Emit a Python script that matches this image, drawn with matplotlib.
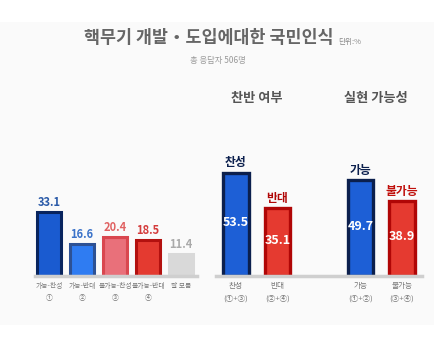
import matplotlib.pyplot as plt
from matplotlib.patches import Rectangle

plt.rcParams['font.family'] = ['Noto Sans CJK KR', 'DejaVu Sans']

# 세부 응답
detail_labels = ['가능-찬성\n①', '가능-반대\n②', '불가능-찬성\n③', '불가능-반대\n④', '잘 모름']
detail_values = [33.1, 16.6, 20.4, 18.5, 11.4]
detail_fill = ['#1a5bd0', '#2f7cf2', '#e9707a', '#e43a30', '#d9d9d9']
detail_edge = ['#08245e', '#2d5194', '#d9474f', '#b3110f', '#d9d9d9']
detail_text = ['#2a5aa8', '#3a72c9', '#e06262', '#d43c3c', '#aaaaaa']

# 찬반 여부 / 실현 가능성
sum_labels = ['찬성\n(①+③)', '반대\n(②+④)', '가능\n(①+②)', '불가능\n(③+④)']
sum_names = ['찬성', '반대', '가능', '불가능']
sum_values = [53.5, 35.1, 49.7, 38.9]
sum_pos = [0, 1, 3, 4]
sum_fill = ['#1d5fd6', '#e53a30', '#1d5fd6', '#e53a30']
sum_edge = ['#0b1f4d', '#b00606', '#0b1f4d', '#b00606']
sum_name_color = ['#0b1f4d', '#b00606', '#0b1f4d', '#c0100c']

W, H = 444, 346
fig = plt.figure(figsize=(W / 100, H / 100), dpi=100)
fig.patch.set_facecolor('white')
fig.patches.append(Rectangle((0, 1 - 325 / H), 434 / W, (325 - 22) / H,
                             transform=fig.transFigure, facecolor='#fafafa',
                             edgecolor='none', zorder=-5))

def px(x0, x1, y0=160, y1=276):
    return [x0 / W, 1 - y1 / H, (x1 - x0) / W, (y1 - y0) / H]

ymax = 60

# 왼쪽: 세부 응답
ax1 = fig.add_axes(px(35, 197))
ax1.bar(range(5), detail_values, width=0.72, color=detail_fill,
        edgecolor=detail_edge, linewidth=2.2, zorder=2)
for i, v in enumerate(detail_values):
    ax1.text(i, v + 1.5, f'{v}', ha='center', va='bottom', fontsize=8,
             color=detail_text[i], fontweight='bold')
ax1.set_xlim(-0.42, 4.48)
ax1.set_xticks(range(5))
ax1.set_xticklabels(detail_labels, fontsize=4.9, color='#777777', linespacing=1.8)
ax1.set_ylim(0, ymax)

# 오른쪽: 찬반 여부 / 실현 가능성
ax2 = fig.add_axes(px(216, 422))
ax2.bar(sum_pos, sum_values, width=0.62, color=sum_fill,
        edgecolor=sum_edge, linewidth=2.4, zorder=2)
for p, v, n, c in zip(sum_pos, sum_values, sum_names, sum_name_color):
    ax2.text(p, v / 2 + 1, f'{v}', ha='center', va='center', fontsize=9,
             color='white', fontweight='bold')
    ax2.text(p, v + 1.6, n, ha='center', va='bottom', fontsize=8.5,
             color=c, fontweight='bold')
ax2.set_xlim(-0.48, 4.48)
ax2.set_xticks(sum_pos)
ax2.set_xticklabels(sum_labels, fontsize=5.5, color='#777777', linespacing=1.8)
ax2.set_ylim(0, ymax)

for ax in (ax1, ax2):
    ax.set_facecolor('none')
    ax.set_yticks([])
    for s in ['top', 'right', 'left']:
        ax.spines[s].set_visible(False)
    ax.spines['bottom'].set_color('#cfcfcf')
    ax.spines['bottom'].set_linewidth(2.5)
    ax.tick_params(axis='x', length=0, pad=4)

# 제목
fig.text(209 / W, 1 - 38 / H, '핵무기 개발・도입에대한 국민인식', ha='center', va='center',
         fontsize=12.5, fontweight='bold', color='#666666')
fig.text(338 / W, 1 - 42 / H, '단위:%', ha='left', va='center', fontsize=5.5, color='#888888')
fig.text(218 / W, 1 - 61 / H, '총 응답자 506명', ha='center', va='center',
         fontsize=6, color='#999999')
fig.text(257 / W, 1 - 98 / H, '찬반 여부', ha='center', va='center',
         fontsize=9.5, fontweight='bold', color='#555555')
fig.text(376 / W, 1 - 98 / H, '실현 가능성', ha='center', va='center',
         fontsize=9.5, fontweight='bold', color='#555555')

fig.savefig('out.png', dpi=100)
